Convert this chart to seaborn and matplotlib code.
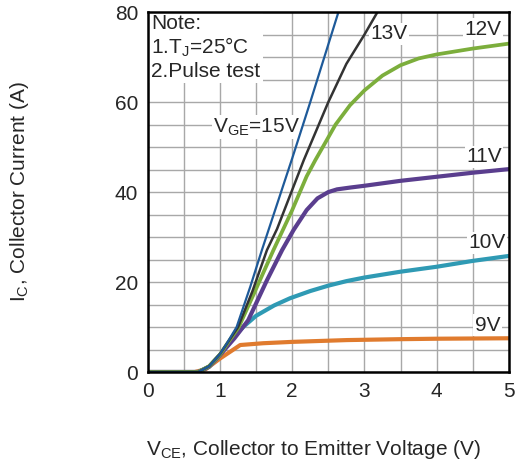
import matplotlib
matplotlib.use("Agg")
import matplotlib.pyplot as plt
import seaborn as sns
import pandas as pd

# ---- data ----
vge_labels = ["15V", "13V", "12V", "11V", "10V", "9V"]

x_15 = [0, 0.7, 0.85, 1.0, 1.1, 1.23, 1.42, 1.58, 2.0, 2.25, 2.64]
y_15 = [0, 0, 1.3, 4.0, 6.5, 10.0, 19.0, 27.1, 47.5, 60.0, 80.0]

x_13 = [0, 0.7, 0.85, 1.0, 1.1, 1.25, 1.45, 1.65, 1.79, 2.16, 2.5, 2.75, 3.0, 3.18]
y_13 = [0, 0, 1.3, 4.0, 6.4, 10.0, 18.0, 27.1, 31.8, 47.1, 60.0, 68.5, 75.0, 80.0]

x_12 = [0, 0.7, 0.85, 1.0, 1.1, 1.26, 1.5, 1.74, 2.0, 2.2, 2.32, 2.48, 2.6, 2.8, 3.0, 3.25, 3.5, 3.75, 4.0, 4.5, 5.0]
y_12 = [0, 0, 1.3, 3.9, 6.3, 10.0, 18.5, 27.1, 36.0, 43.5, 47.1, 51.6, 55.0, 59.3, 62.6, 65.9, 68.2, 69.7, 70.6, 71.9, 73.0]

x_11 = [0, 0.7, 0.85, 1.0, 1.2, 1.39, 1.65, 1.86, 2.02, 2.2, 2.35, 2.5, 2.62, 2.8, 3.0, 3.5, 4.0, 4.5, 5.0]
y_11 = [0, 0, 1.2, 3.8, 7.5, 11.5, 20.4, 27.1, 31.6, 36.0, 38.6, 40.0, 40.6, 41.0, 41.4, 42.5, 43.4, 44.3, 45.1]

x_10 = [0, 0.7, 0.85, 1.0, 1.15, 1.32, 1.5, 1.75, 1.97, 2.25, 2.5, 2.75, 3.0, 3.5, 4.0, 4.5, 5.0]
y_10 = [0, 0, 1.2, 3.8, 7.0, 10.0, 12.5, 14.8, 16.4, 18.0, 19.2, 20.2, 21.0, 22.3, 23.4, 24.7, 25.8]

x_9 = [0, 0.65, 0.8, 1.0, 1.28, 1.6, 2.0, 2.76, 3.5, 4.0, 5.0]
y_9 = [0, 0, 0.6, 3.0, 6.0, 6.4, 6.7, 7.1, 7.3, 7.4, 7.5]

series_x = [x_15, x_13, x_12, x_11, x_10, x_9]
series_y = [y_15, y_13, y_12, y_11, y_10, y_9]

x_ticks = [0, 1, 2, 3, 4, 5]
y_ticks = [0, 20, 40, 60, 80]

# ---- styling ----
colors = {"15V": "#1e5a99", "13V": "#333333", "12V": "#7cae3c",
          "11V": "#5a3e8e", "10V": "#2f9ab4", "9V": "#e07b2e"}
widths = {"15V": 1.6, "13V": 1.8, "12V": 2.7, "11V": 3.0, "10V": 3.0, "9V": 3.0}

sns.set_style("white")
plt.rcParams["font.family"] = ["Liberation Sans", "DejaVu Sans"]
plt.rcParams["mathtext.fontset"] = "custom"
plt.rcParams["mathtext.rm"] = "Liberation Sans"
plt.rcParams["mathtext.default"] = "regular"

rows = []
for lab, xs, ys in zip(vge_labels, series_x, series_y):
    for xv, yv in zip(xs, ys):
        rows.append({"VCE": xv, "IC": yv, "VGE": lab})
df = pd.DataFrame(rows)

fig = plt.figure(figsize=(5.15, 4.67), dpi=100)
ax = fig.add_axes([0.287, 0.2034, 0.701, 0.7706])

for lab in vge_labels[::-1]:
    sub = df[df["VGE"] == lab]
    sns.lineplot(data=sub, x="VCE", y="IC", ax=ax, color=colors[lab],
                 linewidth=widths[lab], sort=False, estimator=None, zorder=3,
                 solid_capstyle="round", solid_joinstyle="round")

fs = 15
ax.set_xlim(0, 5)
ax.set_ylim(0, 80)
ax.set_xticks(x_ticks)
ax.set_yticks(y_ticks)
ax.set_xticks([i * 0.5 for i in range(11)], minor=True)
ax.set_yticks([i * 5 for i in range(17)], minor=True)
ax.grid(True, which="both", color="#a8a8a8", linewidth=1.0)
ax.tick_params(which="both", length=0, labelsize=fs, pad=7)
ax.set_axisbelow(True)
for s in ax.spines.values():
    s.set_color("black")
    s.set_linewidth(1.8)
    s.set_zorder(5)

ax.set_xlabel(r"V$_{CE}$, Collector to Emitter Voltage (V)", fontsize=fs, labelpad=27)
ax.xaxis.label.set_x(0.458)
ax.set_ylabel(r"I$_{C}$, Collector Current (A)", fontsize=fs, labelpad=60)

box = dict(facecolor="white", edgecolor="none", pad=1.0)
ax.text(0.05, 79.5, "Note:\n1.T$_J$=25°C\n2.Pulse test", fontsize=fs, ha="left", va="top",
        linespacing=1.15, bbox=dict(facecolor="white", edgecolor="none", pad=1.5), zorder=2)
ax.text(2.11, 54.5, "V$_{GE}$=15V", fontsize=fs, ha="right", va="center", bbox=box, zorder=2)
ax.text(3.08, 75.2, "13V", fontsize=fs, ha="left", va="center", bbox=box, zorder=2)
ax.text(4.9, 76.2, "12V", fontsize=fs, ha="right", va="center", bbox=box, zorder=2)
ax.text(4.9, 47.8, "11V", fontsize=fs, ha="right", va="center", bbox=box, zorder=2)
ax.text(4.95, 28.7, "10V", fontsize=fs, ha="right", va="center", bbox=box, zorder=2)
ax.text(4.88, 10.4, "9V", fontsize=fs, ha="right", va="center", bbox=box, zorder=2)

fig.savefig("out.png", dpi=100)
